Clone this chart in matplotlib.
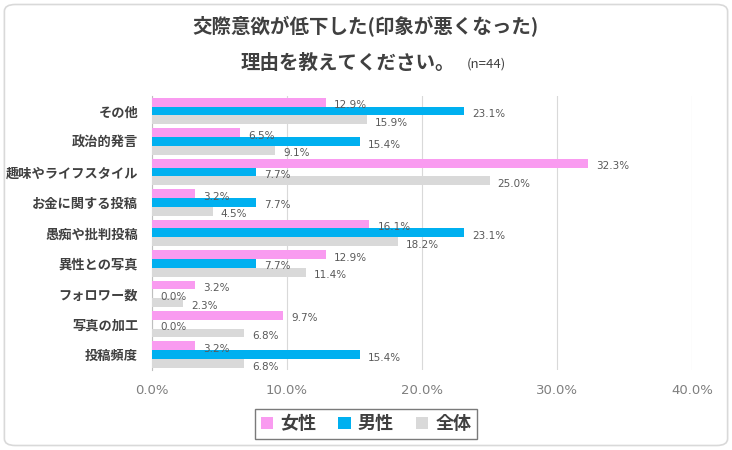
import numpy as np
import matplotlib
matplotlib.use("Agg")
import matplotlib.pyplot as plt
from matplotlib.patches import FancyBboxPatch

plt.rcParams['font.family'] = ['Noto Sans CJK JP', 'DejaVu Sans']

categories = ["その他", "政治的発言", "趣味やライフスタイル", "お金に関する投稿", "愚痴や批判投稿",
              "異性との写真", "フォロワー数", "写真の加工", "投稿頻度"]
female = [12.9, 6.5, 32.3, 3.2, 16.1, 12.9, 3.2, 9.7, 3.2]
male = [23.1, 15.4, 7.7, 7.7, 23.1, 7.7, 0.0, 0.0, 15.4]
total = [15.9, 9.1, 25.0, 4.5, 18.2, 11.4, 2.3, 6.8, 6.8]
series_names = ["女性", "男性", "全体"]
xticks = [0, 10, 20, 30, 40]

colors = ["#F99BF0", "#00B0F0", "#D9D9D9"]
txt = "#595959"

fig = plt.figure(figsize=(7.32, 4.5), dpi=100)
ax = fig.add_axes([0.2077, 0.178, 0.7377, 0.609])

y = np.arange(len(categories))
h = 0.29
for k, (vals, c, name) in enumerate(zip([female, male, total], colors, series_names)):
    pos = y + (k - 1) * h
    ax.barh(pos, vals, height=h, color=c, label=name, zorder=3)
    for p, v in zip(pos, vals):
        ax.text(v + 0.6, p + 0.1, f"{v:.1f}%", va="center", ha="left", fontsize=7.5,
                color=txt, family="DejaVu Sans", zorder=4)

ax.set_xlim(0, 40)
ax.set_ylim(len(categories) - 0.5, -0.5)
ax.set_xticks(xticks)
ax.set_xticklabels([f"{t:.1f}%" for t in xticks], color="#7f7f7f", fontsize=9.5, family="DejaVu Sans")
ax.set_yticks(y)
ax.set_yticklabels(categories, fontsize=9.5, color="#404040", fontweight="bold")
ax.tick_params(axis="both", length=0, pad=10)
ax.grid(axis="x", color="#D9D9D9", lw=0.8, zorder=0)
for s in ["top", "right", "bottom"]:
    ax.spines[s].set_visible(False)
ax.spines["left"].set_color("#BFBFBF")

fig.text(0.5, 0.94, "交際意欲が低下した(印象が悪くなった)", ha="center", va="center",
         fontsize=14, fontweight="bold", color="#404040")
fig.text(0.622, 0.86, "理由を教えてください。", ha="right", va="center",
         fontsize=14, fontweight="bold", color="#404040")
fig.text(0.638, 0.858, "(n=44)", ha="left", va="center", fontsize=9.5, color="#404040")

handles, labels = ax.get_legend_handles_labels()
leg = fig.legend(handles, labels, loc="center", bbox_to_anchor=(0.5, 0.058), ncol=3, fontsize=13,
                 frameon=True, fancybox=False, edgecolor="#595959", handlelength=0.7,
                 handleheight=0.7, handletextpad=0.4, columnspacing=1.2, borderpad=0.3)
for t in leg.get_texts():
    t.set_color("#404040")
    t.set_fontweight("bold")

fig.patches.append(FancyBboxPatch((0.006, 0.01), 0.988, 0.98, boxstyle="round,pad=0,rounding_size=0.015",
                                  transform=fig.transFigure, fill=False, edgecolor="#D9D9D9", lw=1.2))

fig.savefig("out.png", dpi=100)
